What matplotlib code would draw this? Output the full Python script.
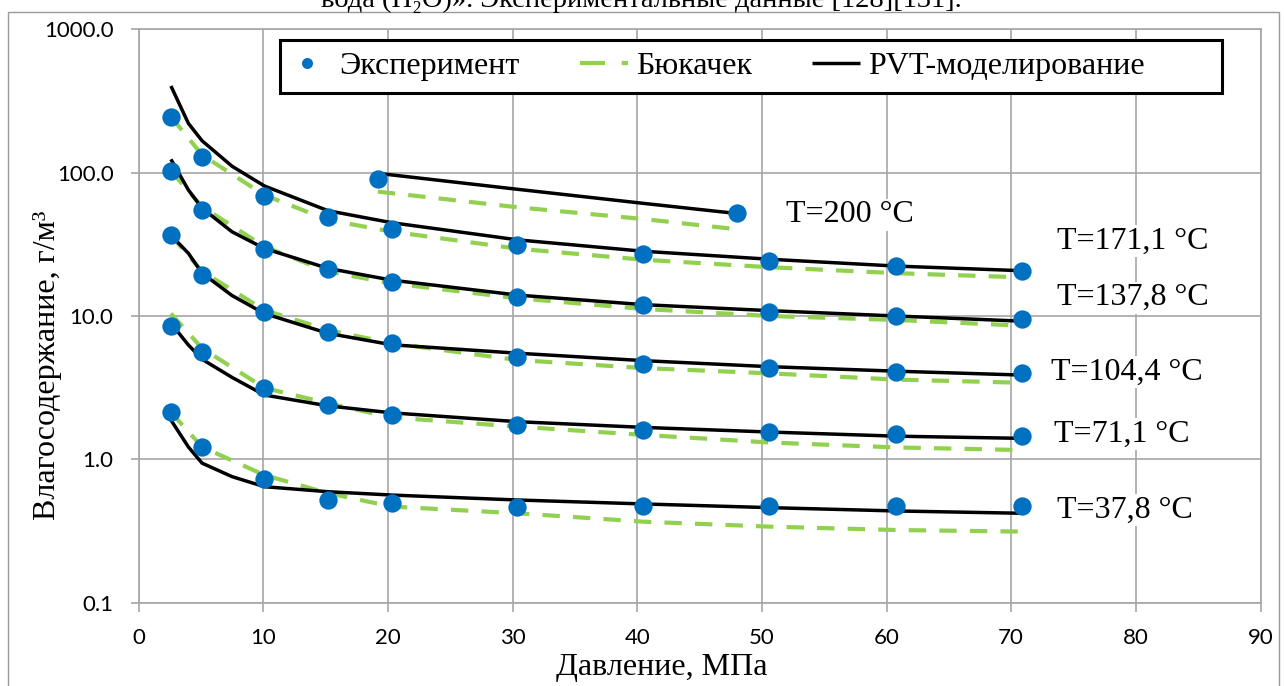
import matplotlib
matplotlib.use("Agg")
import matplotlib.pyplot as plt
from matplotlib.lines import Line2D
from matplotlib.patches import Rectangle

plt.rcParams['lines.scale_dashes'] = False

# ---------------- data ----------------
pressure = [2.6, 5.1, 10.1, 15.2, 20.3, 30.4, 40.5, 50.6, 60.8, 70.9]

exp_378 = [2.13, 1.21, 0.724, 0.52, 0.493, 0.462, 0.474, 0.474, 0.474, 0.474]
exp_711 = [8.53, 5.64, 3.16, 2.39, 2.04, 1.73, 1.59, 1.54, 1.50, 1.45]
exp_1044 = [36.6, 19.4, 10.7, 7.78, 6.45, 5.20, 4.62, 4.31, 4.09, 3.98]
exp_1378 = [103, 54.9, 29.2, 21.3, 17.2, 13.6, 11.9, 10.7, 10.0, 9.48]
exp_1711 = [246, 129, 68.8, 48.8, 40.3, 31.3, 27.0, 24.3, 22.3, 20.6]
p_200 = [19.2, 48.0]
exp_200 = [89.9, 52.1]

bk_378 = [2.13, 1.22, 0.776, 0.58, 0.468, 0.42, 0.367, 0.339, 0.321, 0.313]
bk_711 = [10.4, 5.95, 3.15, 2.46, 1.96, 1.69, 1.48, 1.31, 1.21, 1.16]
bk_1044 = [36.6, 20.5, 11.0, 7.98, 6.45, 4.93, 4.33, 3.98, 3.60, 3.42]
bk_1378 = [103, 57.9, 30.5, 20.4, 16.9, 13.3, 11.2, 10.0, 9.38, 8.55]
bk_1711 = [246, 133, 69.8, 46.8, 38.8, 29.5, 24.7, 21.9, 19.9, 18.6]
bk_200_p = [19.2, 30.4, 40.5, 48.0]
bk_200 = [73.8, 57.4, 47.5, 40.3]

pvt_p = [2.6, 4.0, 5.1, 7.5, 10.1, 15.2, 20.3, 30.4, 40.5, 50.6, 60.8, 70.9]
pvt_378 = [1.88, 1.22, 0.94, 0.757, 0.644, 0.594, 0.563, 0.52, 0.488, 0.46, 0.436, 0.42]
pvt_711 = [8.9, 6.28, 4.99, 3.73, 2.81, 2.36, 2.11, 1.83, 1.67, 1.55, 1.45, 1.40]
pvt_1044 = [36.6, 27.4, 19.9, 13.9, 10.4, 7.57, 6.3, 5.5, 4.88, 4.43, 4.12, 3.87]
pvt_1378 = [124, 75.8, 56.5, 38.7, 29.6, 21.5, 17.8, 14.0, 12.0, 10.9, 10.0, 9.2]
pvt_1711 = [403, 221, 167, 111, 80.8, 54.3, 44.8, 34.0, 28.3, 24.9, 22.3, 20.7]
pvt_200_p = [19.2, 30.4, 40.5, 48.0]
pvt_200 = [99, 76.6, 61.1, 51.9]

labels_T = ["T=200 °C", "T=171,1 °C", "T=137,8 °C", "T=104,4 °C", "T=71,1 °C", "T=37,8 °C"]
label_x = [51.9, 73.7, 73.7, 73.2, 73.4, 73.7]
label_y = [50.7, 33.4, 13.4, 4.07, 1.50, 0.443]

xticks = [0, 10, 20, 30, 40, 50, 60, 70, 80, 90]
yticks = [0.1, 1, 10, 100, 1000]
ytick_labels = ["0.1", "1.0", "10.0", "100.0", "1000.0"]

legend_labels = ["Эксперимент", "Бюкачек", "PVT-моделирование"]
caption = "вода (H₂O)». Экспериментальные данные [128][131]."

# ---------------- style ----------------
BLUE = "#0070C0"
GREEN = "#92D050"
GRID = "#A6A6A6"
SERIF = ["Liberation Serif", "DejaVu Serif"]
SANS = ["Lato", "DejaVu Sans"]

W, H = 1284, 686
AX_L, AX_R, AX_T, AX_B = 138.5, 1260.5, 29.4, 602.6
fig = plt.figure(figsize=(W / 100, H / 100), dpi=100)
ax = fig.add_axes([AX_L / W, 1 - AX_B / H, (AX_R - AX_L) / W, (AX_B - AX_T) / H])


def ax_frac(px, py):
    return ((px - AX_L) / (AX_R - AX_L), 1 - (py - AX_T) / (AX_B - AX_T))


# outer frame + cut caption
fig.add_artist(Rectangle((8 / W, -0.1), (1279 - 8) / W, 1.1 - 12 / H,
                         transform=fig.transFigure, fill=False,
                         edgecolor="#9A9A9A", linewidth=1.0))
fig.text(641 / W, 1 - 7 / H, caption, ha="center", va="baseline",
         fontsize=20.5, family=SERIF, color="black")

green_kw = dict(color=GREEN, linewidth=3.0, dashes=(12.5, 9.5), dash_capstyle="butt")
black_kw = dict(color="black", linewidth=2.5, solid_capstyle="butt")
mark_kw = dict(linestyle="none", marker="o", markersize=13.2, color=BLUE,
               markeredgewidth=0)

bk_series = [bk_378, bk_711, bk_1044, bk_1378, bk_1711]
pvt_series = [pvt_378, pvt_711, pvt_1044, pvt_1378, pvt_1711]
exp_series = [exp_378, exp_711, exp_1044, exp_1378, exp_1711]

for s in bk_series:
    ax.plot(pressure, s, zorder=3, **green_kw)
ax.plot(bk_200_p, bk_200, zorder=3, **green_kw)
for s in pvt_series:
    ax.plot(pvt_p, s, zorder=4, **black_kw)
ax.plot(pvt_200_p, pvt_200, zorder=4, **black_kw)
for s in exp_series:
    ax.plot(pressure, s, zorder=5, **mark_kw)
ax.plot(p_200, exp_200, zorder=5, **mark_kw)

ax.set_yscale("log")
ax.set_xlim(0, 90)
ax.set_ylim(0.1, 1000)
ax.set_xticks(xticks)
ax.set_xticklabels([str(v) for v in xticks])
ax.set_yticks(yticks)
ax.set_yticklabels(ytick_labels)
ax.minorticks_off()
ax.grid(True, color=GRID, linewidth=1.2, zorder=0)
ax.set_axisbelow(True)
for sp in ax.spines.values():
    sp.set_color(GRID)
    sp.set_linewidth(1.2)
ax.tick_params(axis="x", direction="out", length=6.5, width=1.2, color=GRID,
               pad=11.5, labelsize=16)
ax.tick_params(axis="y", direction="out", length=6, width=1.2, color=GRID,
               pad=12, labelsize=16)
for lab in ax.get_xticklabels() + ax.get_yticklabels():
    lab.set_family(SANS)

# axis titles
fig.text(662 / W, 1 - 668 / H, "Давление, МПа", ha="center", va="center",
         fontsize=23, family=SERIF)
fig.text(48 / W, 1 - 365 / H, "Влагосодержание, г/м³", ha="center", va="center",
         rotation=90, fontsize=23, family=SERIF)

# temperature labels
for t, x, y in zip(labels_T, label_x, label_y):
    ax.text(x, y, t, ha="left", va="center", fontsize=23, family=SERIF,
            zorder=6, bbox=dict(facecolor="white", edgecolor="none", pad=1))

# legend: frame drawn as a box, entries placed inside
x0, y1 = ax_frac(280, 40)
x1, y0 = ax_frac(1222, 93)
ax.add_patch(Rectangle((x0, y0), x1 - x0, y1 - y0, transform=ax.transAxes,
                       facecolor="white", edgecolor="black", linewidth=2.2,
                       zorder=7, clip_on=False))
leg_handles = [Line2D([], [], **mark_kw),
               Line2D([], [], color=GREEN, linewidth=3.0, dashes=(18, 12)),
               Line2D([], [], **black_kw)]
lx, ly = ax_frac(283, 66.5)
leg = ax.legend(leg_handles, legend_labels, loc="center left",
                bbox_to_anchor=(lx, ly), ncol=3, frameon=False,
                markerscale=0.6, prop={"family": SERIF, "size": 23},
                handlelength=1.5, handletextpad=0.25, columnspacing=1.9,
                borderpad=0.0, borderaxespad=0)
leg.set_zorder(8)

fig.savefig("out.png", dpi=100)
